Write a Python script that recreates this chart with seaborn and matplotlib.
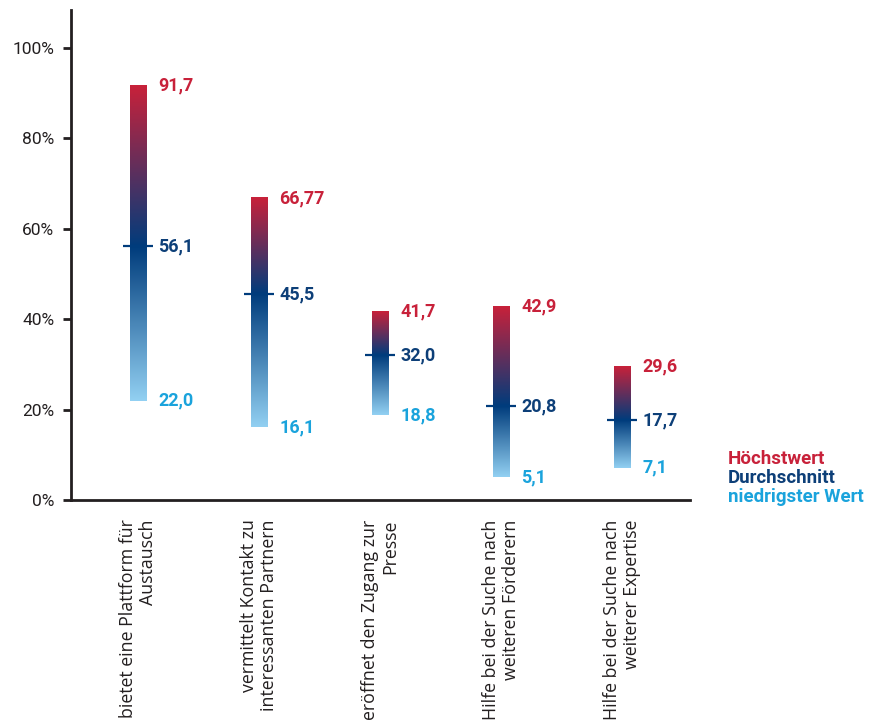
import numpy as np
import pandas as pd
import matplotlib
matplotlib.use("Agg")
import matplotlib.pyplot as plt
from matplotlib.colors import to_rgb
import seaborn as sns

CATEGORIES = [
    "bietet eine Plattform für\nAustausch",
    "vermittelt Kontakt zu\ninteressanten Partnern",
    "eröffnet den Zugang zur\nPresse",
    "Hilfe bei der Suche nach\nweiteren Förderern",
    "Hilfe bei der Suche nach\nweiterer Expertise",
]
HIGH = [91.7, 66.77, 41.7, 42.9, 29.6]
MEAN = [56.1, 45.5, 32.0, 20.8, 17.7]
LOW = [22.0, 16.1, 18.8, 5.1, 7.1]
Y_TICKS = [0, 20, 40, 60, 80, 100]
LEGEND = ["Höchstwert", "Durchschnitt", "niedrigster Wert"]

RED = "#c8213a"
NAVY = "#0d3f78"
SKY = "#1aa3dc"
BAR_DARK = "#003c7c"
BAR_LIGHT = "#92d0f2"
INK = "#231f20"

sns.set_theme(style="white")
plt.rcParams["font.family"] = ["Open Sans", "DejaVu Sans"]
NUM_FONT = ["Roboto", "DejaVu Sans"]

df = pd.DataFrame({"cat": CATEGORIES, "low": LOW, "mean": MEAN, "high": HIGH})

fig = plt.figure(figsize=(8.74, 7.24), dpi=100)
ax = fig.add_axes([0.0812, 0.3094, 0.7082, 0.6768])

sns.barplot(data=df, x="cat", y="high", width=0.14, color="white",
            linewidth=0, ax=ax)

# gradient bars: light blue at the low end, dark blue at the mean, red on top
light, dark, red = (np.array(to_rgb(c)) for c in (BAR_LIGHT, BAR_DARK, RED))
n = 300
for i, p in enumerate(ax.patches):
    lo, mu, hi = LOW[i], MEAN[i], HIGH[i]
    p.set_y(lo)
    p.set_height(hi - lo)
    p.set_facecolor("none")
    vals = np.linspace(lo, hi, n)
    t_lo = np.clip((vals - lo) / (mu - lo), 0, 1)[:, None]
    t_hi = np.clip((vals - mu) / (hi - mu), 0, 1)[:, None]
    cols = np.where(vals[:, None] < mu,
                    light + (dark - light) * t_lo,
                    dark + (red - dark) * t_hi)
    x0, w = p.get_x(), p.get_width()
    ax.imshow(cols[:, None, :], extent=(x0, x0 + w, lo, hi), origin="lower",
              aspect="auto", interpolation="bilinear", zorder=2)

sns.scatterplot(data=df, x="cat", y="mean", marker="_", s=480,
                color=BAR_DARK, linewidth=1.6, zorder=3, ax=ax)

def fmt(v):
    return str(v).replace(".", ",")

for i in range(len(CATEGORIES)):
    for v, c in ((HIGH[i], RED), (MEAN[i], NAVY), (LOW[i], SKY)):
        ax.text(i + 0.165, v, fmt(v), color=c, ha="left", va="center",
                fontsize=13, fontweight="bold", family=NUM_FONT, zorder=4)

ax.set_xlim(-0.554, 4.56)
ax.set_ylim(0, 108.4)
ax.set_yticks(Y_TICKS)
ax.set_yticklabels([f"{v}%" for v in Y_TICKS])
ax.set_xlabel("")
ax.set_ylabel("")

for s in ("top", "right"):
    ax.spines[s].set_visible(False)
for s in ("left", "bottom"):
    ax.spines[s].set_linewidth(2)
    ax.spines[s].set_color(INK)

ax.tick_params(axis="y", direction="out", length=6, width=2, color=INK,
               labelsize=12.5, labelcolor=INK, pad=6, left=True)
ax.tick_params(axis="x", length=0, pad=14, labelsize=12.8, labelcolor=INK)
for lab in ax.get_yticklabels():
    lab.set_family(NUM_FONT)
for lab in ax.get_xticklabels():
    lab.set_rotation(90)
    lab.set_va("top")
    lab.set_ha("center")
    lab.set_multialignment("right")
    lab.set_linespacing(1.1)

for k, (txt, c) in enumerate(zip(LEGEND, (RED, NAVY, SKY))):
    fig.text(728 / 874, 1 - (459 + 19 * k) / 724, txt, color=c, ha="left",
             va="center", fontsize=13.5, fontweight="bold", family=NUM_FONT)

fig.savefig("out.png", dpi=100)
